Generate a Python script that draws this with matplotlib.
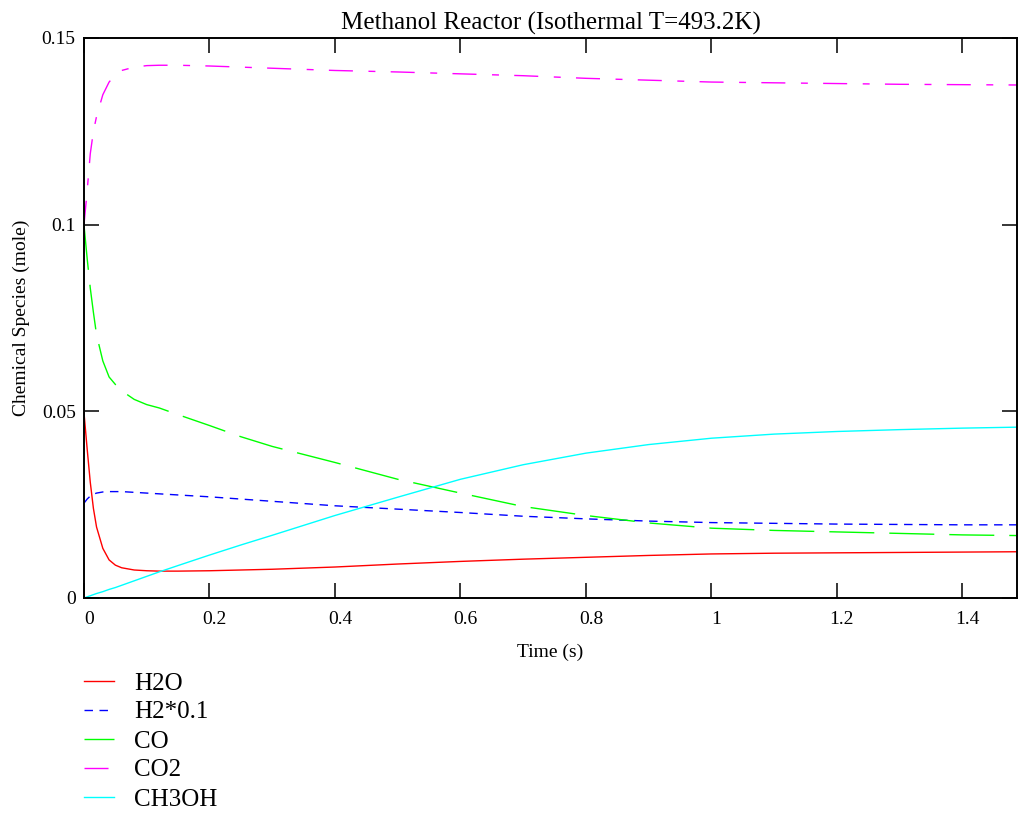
#!/usr/bin/env python3
"""Methanol reactor species vs time (isothermal run)."""

import matplotlib
matplotlib.use("Agg")
import matplotlib.pyplot as plt
import matplotlib.transforms as mtransforms

# --- data ---
time_s = [0, 0.005, 0.01, 0.015, 0.02, 0.03, 0.04, 0.05, 0.06, 0.08, 0.1, 0.12,
          0.15, 0.2, 0.25, 0.3, 0.4, 0.5, 0.6, 0.7, 0.8, 0.9, 1.0, 1.1, 1.2,
          1.3, 1.4, 1.5]

h2o = [0.0496, 0.040, 0.031, 0.024, 0.019, 0.0133, 0.0102, 0.0088, 0.0081,
       0.0075, 0.0073, 0.0072, 0.0072, 0.0073, 0.0075, 0.0077, 0.0083, 0.0091,
       0.0098, 0.0104, 0.0109, 0.0114, 0.0118, 0.0120, 0.0121, 0.0122, 0.0123,
       0.0124]

h2_scaled = [0.0254, 0.0265, 0.0273, 0.0278, 0.0281, 0.0284, 0.0285, 0.0285,
             0.0285, 0.0283, 0.0281, 0.0279, 0.0276, 0.0271, 0.0265, 0.0259,
             0.0247, 0.0238, 0.0229, 0.0219, 0.0212, 0.0206, 0.0202, 0.0200,
             0.0198, 0.0197, 0.0196, 0.0196]

co = [0.0999, 0.091, 0.083, 0.0765, 0.0705, 0.0635, 0.0592, 0.0572, 0.0555,
      0.0532, 0.0518, 0.0509, 0.0491, 0.0462, 0.0432, 0.0406, 0.0363, 0.0318,
      0.0281, 0.0245, 0.0221, 0.0201, 0.0187, 0.0181, 0.0177, 0.0173, 0.0169,
      0.0167]

co2 = [0.100, 0.109, 0.119, 0.125, 0.129, 0.1348, 0.1382, 0.1401, 0.1413,
       0.1422, 0.1426, 0.1427, 0.1427, 0.1425, 0.1422, 0.1419, 0.1413, 0.1409,
       0.1404, 0.1399, 0.1392, 0.1387, 0.1382, 0.1380, 0.1378, 0.1376, 0.1375,
       0.1374]

ch3oh = [0, 0.0003, 0.0006, 0.0009, 0.0012, 0.0017, 0.0023, 0.0028, 0.0034,
         0.0046, 0.0058, 0.0070, 0.0087, 0.0115, 0.0142, 0.0168, 0.0221, 0.0270,
         0.0318, 0.0357, 0.0388, 0.0411, 0.0428, 0.0439, 0.0446, 0.0451, 0.0455,
         0.0458]

series_labels = ["H2O", "H2*0.1", "CO", "CO2", "CH3OH"]
x_ticks = [0, 0.2, 0.4, 0.6, 0.8, 1.0, 1.2, 1.4]
x_tick_labels = ["0", "0.2", "0.4", "0.6", "0.8", "1", "1.2", "1.4"]
y_ticks = [0, 0.05, 0.1, 0.15]
y_tick_labels = ["0", "0.05", "0.1", "0.15"]

plt.rcParams["font.family"] = ["Liberation Serif", "DejaVu Serif"]
plt.rcParams["lines.scale_dashes"] = False

W, H = 1018, 815
fig = plt.figure(figsize=(W / 100, H / 100), dpi=100)
ax = fig.add_axes([84 / W, 1 - 598 / H, (1017 - 84) / W, (598 - 38) / H])

lw = 1.0
ax.plot(time_s, h2o, color="#ff0000", lw=lw, label=series_labels[0])
ax.plot(time_s, h2_scaled, color="#0000ff", lw=lw, dashes=(6.1, 4.7),
        label=series_labels[1])
ax.plot(time_s, co, color="#00ff00", lw=lw, dashes=(32.4, 10.8),
        label=series_labels[2])
ax.plot(time_s, co2, color="#ff00ff", lw=lw, dashes=(17.3, 11.2, 5.0, 11.0),
        label=series_labels[3])
ax.plot(time_s, ch3oh, color="#00ffff", lw=lw, label=series_labels[4])

ax.set_xlim(0, 1.487)
ax.set_ylim(0, 0.15)
ax.set_xticks(x_ticks)
ax.set_xticklabels(x_tick_labels)
ax.set_yticks(y_ticks)
ax.set_yticklabels(y_tick_labels)
ax.tick_params(direction="in", length=10.8, width=1.1, labelsize=14,
               top=True, right=True)
ax.tick_params(axis="x", pad=9)
ax.tick_params(axis="y", pad=6)
for s in ax.spines.values():
    s.set_linewidth(1.4)

# tick labels in the reference sit a few pixels right of their ticks
offset = mtransforms.ScaledTranslation(5 / 100, 0, fig.dpi_scale_trans)
for lab in ax.get_xticklabels():
    lab.set_transform(lab.get_transform() + offset)

ax.set_title("Methanol Reactor (Isothermal T=493.2K)", fontsize=18, pad=6)
ax.set_xlabel("Time (s)", fontsize=14)
ax.xaxis.set_label_coords(0.5, (598 - 652) / 560)
ax.xaxis.label.set_verticalalignment("center")
ax.set_ylabel("Chemical Species (mole)", fontsize=14)
ax.yaxis.set_label_coords((21 - 84) / 933, 0.5)
ax.yaxis.label.set_verticalalignment("center")

fig.legend(loc="upper left", bbox_to_anchor=(84 / W, 1 - 672 / H),
           frameon=False, fontsize=18, handlelength=1.2, handletextpad=0.8,
           labelspacing=0.26, borderpad=0, borderaxespad=0)

fig.savefig("out.png", dpi=100)
